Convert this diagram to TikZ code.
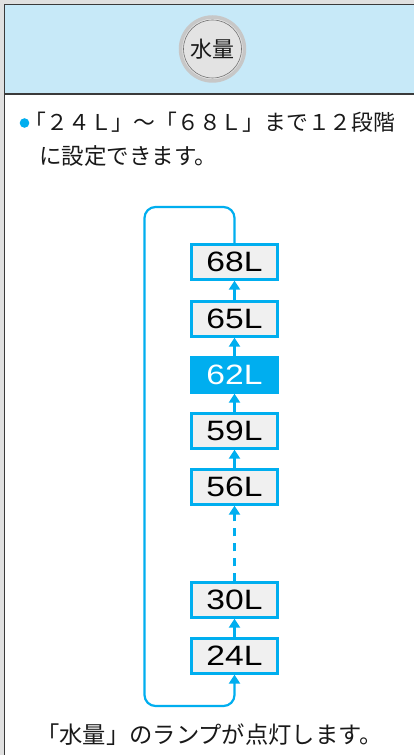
\documentclass[tikz,border=0pt]{standalone}
\usepackage{fontspec}
\setmainfont{Liberation Sans}
\newfontfamily\jp{Noto Sans CJK JP}
\usetikzlibrary{arrows.meta}
\definecolor{cy}{HTML}{00AEEF}
\definecolor{hdr}{HTML}{C7E9F8}
\definecolor{boxf}{HTML}{F0F0F0}
\definecolor{outg}{HTML}{E0E0E0}
\definecolor{frame}{HTML}{3A3A3A}
\tikzset{
  lvl/.style={draw=cy, line width=2.3pt, fill=boxf, minimum width=86pt, minimum height=35pt, inner sep=0pt,
    font=\fontsize{28}{28}\selectfont, text=black},
  lvlon/.style={lvl, fill=cy, text=white},
  conn/.style={cy, line width=2.2pt, -{Triangle[width=11pt,length=9pt]}},
  jtext/.style={inner sep=0pt, anchor=base west, text=black!90}
}
\newcommand{\lbl}[1]{\scalebox{1.2}[1]{#1}}
\begin{document}
\begin{tikzpicture}[x=1pt,y=1pt]
\useasboundingbox (0,0) rectangle (414,755);
% background frame
\fill[outg] (0,0) rectangle (414,755);
\fill[white] (4,0) rectangle (414,751);
\fill[hdr] (4,661) rectangle (414,751);
\draw[frame, line width=1.5pt] (4.5,0) -- (4.5,750.5) -- (414,750.5);
\draw[frame, line width=1.3pt] (4.5,661) -- (414,661);
% button
\node[circle, minimum size=64pt, fill=black!11, draw=black!22, line width=3.5pt, inner sep=0pt] (btn) at (212.5,706) {};
\draw[black!55, line width=0.6pt] (btn.center) circle (29pt);
\node[inner sep=0pt, font=\jp\fontsize{22}{22}\selectfont, text=black!90] (btnt) at (212.5,706) {水量};
% bullet text
\fill[cy] (24.5,632) circle (4.8pt);
\node[jtext, font=\jp\fontsize{21.8}{21.8}\selectfont] (l1) at (24.5,624) {「２４Ｌ」～「６８Ｌ」まで１２段階};
\node[jtext, font=\jp\fontsize{22.5}{22.5}\selectfont] (l2) at (39,590.5) {に設定できます。};
% level boxes
\node[lvl] (n68) at (234.5,493) {\lbl{68L}};
\node[lvl] (n65) at (234.5,436) {\lbl{65L}};
\node[lvlon] (n62) at (234.5,380) {\lbl{62L}};
\node[lvl] (n59) at (234.5,324) {\lbl{59L}};
\node[lvl] (n56) at (234.5,268) {\lbl{56L}};
\node[lvl] (n30) at (234.5,155) {\lbl{30L}};
\node[lvl] (n24) at (234.5,99) {\lbl{24L}};
% connectors
\draw[conn] (n65.north) -- (n68.south);
\draw[conn] (n62.north) -- (n65.south);
\draw[conn] (n59.north) -- (n62.south);
\draw[conn] (n56.north) -- (n59.south);
\draw[conn, dash pattern=on 8pt off 7pt] (n30.north) -- (n56.south);
\draw[conn] (n24.north) -- (n30.south);
\coordinate (tl) at (144.5,548);
\coordinate (bl) at (144.5,49);
\draw[conn, rounded corners=11pt] (n68.north) |- (tl) -- (bl) -| (n24.south);
% bottom text
\node[jtext, font=\jp\fontsize{23.3}{23.3}\selectfont] (bt) at (36,11.5) {「水量」のランプが点灯します。};
\end{tikzpicture}
\end{document}
